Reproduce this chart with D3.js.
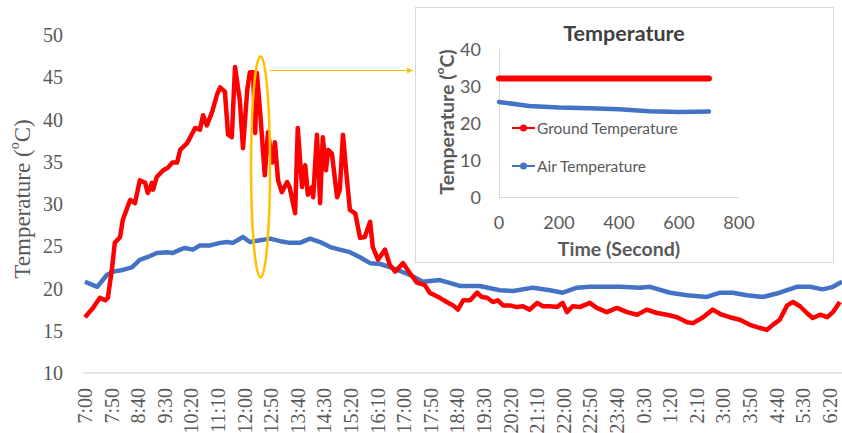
<!DOCTYPE html>
<html lang="en">
<head>
<meta charset="UTF-8">
<script src="https://d3js.org/d3.v7.min.js"></script>
<title>Ground and Air Temperature</title>
<style>
    body { margin: 0; background: #fff; }
    svg { display: block; }
</style>
</head>
<body>
<div id="chart"></div>
<script>
// time in minutes after 7:00, temperatures in deg C
const groundMin = [0, 15, 28, 38, 43, 51, 56, 66, 71, 85, 94, 103, 113, 118, 126, 128, 135, 147, 156, 164, 173, 179, 192, 197, 207, 216, 222, 229, 239, 248, 254, 263, 269, 276, 282, 291, 297, 305, 310, 316, 320, 323, 329, 338, 344, 352, 357, 363, 370, 380, 385, 395, 400, 408, 414, 419, 427, 429, 436, 442, 447, 453, 457, 464, 474, 479, 485, 492, 498, 508, 517, 526, 536, 541, 551, 564, 573, 583, 598, 611, 624, 639, 648, 667, 680, 692, 701, 711, 724, 737, 746, 756, 767, 776, 786, 799, 812, 823, 836, 850, 861, 874, 887, 898, 906, 917, 930, 949, 962, 981, 1000, 1019, 1038, 1056, 1075, 1094, 1113, 1132, 1143, 1162, 1180, 1197, 1212, 1231, 1250, 1265, 1282, 1293, 1306, 1320, 1331, 1344, 1357, 1368, 1382, 1395, 1406, 1419];
const groundTemp = [16.6, 17.7, 18.9, 18.6, 18.9, 22.5, 25.4, 26.1, 28.1, 30.5, 30.1, 32.8, 32.5, 31.3, 32.5, 31.7, 33.2, 34.0, 34.3, 34.9, 34.9, 36.4, 37.2, 37.8, 39.0, 38.8, 40.5, 39.3, 40.9, 42.9, 43.8, 43.3, 38.2, 37.9, 46.2, 42.3, 36.6, 43.5, 45.6, 45.6, 38.4, 45.5, 41.1, 33.4, 38.5, 34.9, 37.3, 32.8, 31.4, 32.6, 31.9, 28.9, 39.0, 32.0, 34.6, 31.1, 32.0, 30.8, 38.2, 30.1, 37.9, 34.0, 36.4, 36.0, 30.8, 31.7, 38.2, 33.2, 29.3, 28.9, 26.0, 26.1, 27.9, 24.9, 23.4, 24.6, 22.8, 22.0, 23.0, 21.8, 20.7, 20.4, 19.5, 18.9, 18.4, 18.0, 17.5, 18.6, 18.6, 19.5, 19.0, 18.9, 18.4, 18.6, 18.0, 18.0, 17.8, 17.9, 17.5, 18.3, 17.9, 17.9, 17.8, 18.3, 17.2, 17.9, 17.8, 18.3, 17.7, 17.2, 17.7, 17.2, 16.9, 17.5, 17.1, 16.9, 16.6, 16.0, 15.9, 16.6, 17.5, 16.9, 16.6, 16.3, 15.7, 15.4, 15.1, 15.7, 16.3, 18.0, 18.4, 17.9, 17.1, 16.5, 16.9, 16.6, 17.2, 18.4];

const airMin = [0, 23, 41, 53, 71, 88, 103, 117, 135, 154, 165, 179, 188, 203, 216, 235, 254, 267, 278, 297, 310, 329, 348, 367, 385, 404, 423, 442, 461, 479, 498, 517, 536, 555, 579, 611, 635, 667, 705, 742, 780, 805, 842, 874, 898, 925, 949, 1006, 1043, 1062, 1100, 1132, 1169, 1194, 1218, 1244, 1274, 1306, 1338, 1363, 1387, 1406, 1423];
const airTemp = [20.8, 20.2, 21.6, 22.0, 22.2, 22.5, 23.4, 23.7, 24.2, 24.3, 24.2, 24.6, 24.8, 24.6, 25.1, 25.1, 25.4, 25.5, 25.4, 26.1, 25.5, 25.7, 25.9, 25.6, 25.4, 25.4, 25.9, 25.5, 24.9, 24.6, 24.3, 23.7, 23.0, 22.9, 22.4, 21.6, 20.8, 21.0, 20.3, 20.3, 19.8, 19.7, 20.1, 19.8, 19.5, 20.1, 20.2, 20.2, 20.1, 20.2, 19.5, 19.2, 19.0, 19.5, 19.5, 19.2, 19.0, 19.5, 20.2, 20.2, 19.9, 20.2, 20.8];

// category labels on the time axis, one every 50 minutes
const timeLabels = ["7:00", "7:50", "8:40", "9:30", "10:20", "11:10", "12:00", "12:50", "13:40", "14:30", "15:20", "16:10", "17:00", "17:50", "18:40", "19:30", "20:20", "21:10", "22:00", "22:50", "23:40", "0:30", "1:20", "2:10", "3:00", "3:50", "4:40", "5:30", "6:20"];
const labelStep = 50;
const yTicks = [10, 15, 20, 25, 30, 35, 40, 45, 50];

// inset chart (seconds)
const insetSec = [0, 100, 200, 300, 400, 500, 600, 700];
const insetGround = [32, 32, 32, 32, 32, 32, 32, 32];
const insetAir = [25.7, 24.6, 24.2, 24.0, 23.7, 23.2, 23.0, 23.1];
const insetXTicks = [0, 200, 400, 600, 800];
const insetYTicks = [0, 10, 20, 30, 40];

// highlighted window (minutes after 7:00) and its temperature span
const zoomAt = 330, zoomLow = 21.3, zoomHigh = 47.5, arrowAt = 45.8;

const width = 842, height = 433;
const serif = '"Liberation Serif", "Times New Roman", serif';
const sans = 'Lato, "Open Sans", sans-serif';
const grey = '#595959';

const svg = d3.select('#chart').append('svg')
    .attr('width', width)
    .attr('height', height);

svg.append('defs').append('marker')
    .attr('id', 'arrowhead')
    .attr('viewBox', '0 -5 10 10')
    .attr('refX', 10)
    .attr('refY', 0)
    .attr('markerWidth', 5)
    .attr('markerHeight', 5)
    .attr('orient', 'auto')
    .append('path')
    .attr('d', 'M0,-5L10,0L0,5')
    .attr('fill', '#FFC000');

// main chart
const x = d3.scaleLinear().domain([0, 1440]).range([85, 851]);
const y = d3.scaleLinear().domain([10, 50]).range([373, 35]);

svg.append('line')
    .attr('x1', 83).attr('x2', width)
    .attr('y1', y(10)).attr('y2', y(10))
    .attr('stroke', '#d9d9d9')
    .attr('stroke-width', 1.5);

svg.append('g').selectAll('text')
    .data(yTicks)
    .join('text')
    .attr('x', 63)
    .attr('y', d => y(d))
    .attr('text-anchor', 'end')
    .attr('dominant-baseline', 'central')
    .attr('font-family', serif)
    .attr('font-size', 20)
    .attr('fill', grey)
    .text(d => d);

svg.append('g').selectAll('text')
    .data(timeLabels)
    .join('text')
    .attr('transform', (d, i) => `translate(${x(i * labelStep)},388) rotate(-90)`)
    .attr('text-anchor', 'end')
    .attr('dominant-baseline', 'central')
    .attr('font-family', serif)
    .attr('font-size', 20)
    .attr('fill', grey)
    .text(d => d);

const yTitle = svg.append('text')
    .attr('transform', 'translate(22,199) rotate(-90)')
    .attr('text-anchor', 'middle')
    .attr('dominant-baseline', 'central')
    .attr('font-family', serif)
    .attr('font-size', 23)
    .attr('fill', grey);
yTitle.append('tspan').text('Temperature (');
yTitle.append('tspan').attr('font-size', 14).attr('dy', -8).text('o');
yTitle.append('tspan').attr('dy', 8).text('C)');

const line = d3.line().x(d => x(d[0])).y(d => y(d[1]));

svg.append('path')
    .datum(d3.zip(airMin, airTemp))
    .attr('d', line)
    .attr('fill', 'none')
    .attr('stroke', '#4472C4')
    .attr('stroke-width', 4.5)
    .attr('stroke-linejoin', 'round');

svg.append('path')
    .datum(d3.zip(groundMin, groundTemp))
    .attr('d', line)
    .attr('fill', 'none')
    .attr('stroke', '#FF0000')
    .attr('stroke-width', 4.5)
    .attr('stroke-linejoin', 'round');

// highlight ellipse + arrow to the inset
svg.append('ellipse')
    .attr('cx', x(zoomAt))
    .attr('cy', (y(zoomLow) + y(zoomHigh)) / 2)
    .attr('rx', 9.5)
    .attr('ry', (y(zoomLow) - y(zoomHigh)) / 2)
    .attr('fill', 'none')
    .attr('stroke', '#FFC000')
    .attr('stroke-width', 2.5);

svg.append('line')
    .attr('x1', x(zoomAt) + 9).attr('x2', 413)
    .attr('y1', y(arrowAt)).attr('y2', y(arrowAt))
    .attr('stroke', '#FFC000')
    .attr('stroke-width', 1.2)
    .attr('marker-end', 'url(#arrowhead)');

// inset chart
const inset = svg.append('g');
inset.append('rect')
    .attr('x', 415.5).attr('y', 7.5)
    .attr('width', 418).attr('height', 255)
    .attr('fill', '#fff')
    .attr('stroke', '#d9d9d9');

const ix = d3.scaleLinear().domain([0, 800]).range([499, 739]);
const iy = d3.scaleLinear().domain([0, 40]).range([197, 49]);

inset.append('line')
    .attr('x1', ix(0) + 0.5).attr('x2', ix(0) + 0.5)
    .attr('y1', iy(40)).attr('y2', iy(0))
    .attr('stroke', '#d9d9d9');
inset.append('line')
    .attr('x1', ix(0)).attr('x2', ix(800))
    .attr('y1', iy(0) + 0.5).attr('y2', iy(0) + 0.5)
    .attr('stroke', '#d9d9d9');

inset.append('g').selectAll('text')
    .data(insetYTicks)
    .join('text')
    .attr('x', 481)
    .attr('y', d => iy(d))
    .attr('text-anchor', 'end')
    .attr('dominant-baseline', 'central')
    .attr('font-family', sans)
    .attr('font-size', 18)
    .attr('fill', grey)
    .text(d => d);

inset.append('g').selectAll('text')
    .data(insetXTicks)
    .join('text')
    .attr('x', d => ix(d))
    .attr('y', 222)
    .attr('text-anchor', 'middle')
    .attr('dominant-baseline', 'central')
    .attr('font-family', sans)
    .attr('font-size', 18)
    .attr('fill', grey)
    .text(d => d);

inset.append('text')
    .attr('x', 624).attr('y', 33)
    .attr('text-anchor', 'middle')
    .attr('dominant-baseline', 'central')
    .attr('font-family', sans)
    .attr('font-weight', 'bold')
    .attr('font-size', 21.5)
    .attr('fill', '#404040')
    .text('Temperature');

inset.append('text')
    .attr('x', 619).attr('y', 248)
    .attr('text-anchor', 'middle')
    .attr('dominant-baseline', 'central')
    .attr('font-family', sans)
    .attr('font-weight', 'bold')
    .attr('font-size', 19.5)
    .attr('fill', grey)
    .text('Time (Second)');

const iyTitle = inset.append('text')
    .attr('transform', 'translate(446,122) rotate(-90)')
    .attr('text-anchor', 'middle')
    .attr('dominant-baseline', 'central')
    .attr('font-family', sans)
    .attr('font-weight', 'bold')
    .attr('font-size', 19.5)
    .attr('fill', grey);
iyTitle.append('tspan').text('Temperature (');
iyTitle.append('tspan').attr('font-size', 12).attr('dy', -7).text('o');
iyTitle.append('tspan').attr('dy', 7).text('C)');

const iline = d3.line().x(d => ix(d[0])).y(d => iy(d[1]));

inset.append('path')
    .datum(d3.zip(insetSec, insetAir))
    .attr('d', iline)
    .attr('fill', 'none')
    .attr('stroke', '#4472C4')
    .attr('stroke-width', 4.5)
    .attr('stroke-linecap', 'round');

inset.append('path')
    .datum(d3.zip(insetSec, insetGround))
    .attr('d', iline)
    .attr('fill', 'none')
    .attr('stroke', '#FF0000')
    .attr('stroke-width', 6)
    .attr('stroke-linecap', 'round');

// legend inside the inset
const legend = [
    { name: 'Ground Temperature', color: '#FF0000', y: 128 },
    { name: 'Air Temperature', color: '#4472C4', y: 166 }
];
const item = inset.append('g').selectAll('g')
    .data(legend)
    .join('g')
    .attr('transform', d => `translate(0,${d.y})`);
item.append('line')
    .attr('x1', 512).attr('x2', 535)
    .attr('stroke', d => d.color)
    .attr('stroke-width', 2);
item.append('circle')
    .attr('cx', 523.5).attr('r', 3.5)
    .attr('fill', d => d.color);
item.append('text')
    .attr('x', 537)
    .attr('dominant-baseline', 'central')
    .attr('font-family', sans)
    .attr('font-size', 15.5)
    .attr('fill', grey)
    .text(d => d.name);
</script>
</body>
</html>
